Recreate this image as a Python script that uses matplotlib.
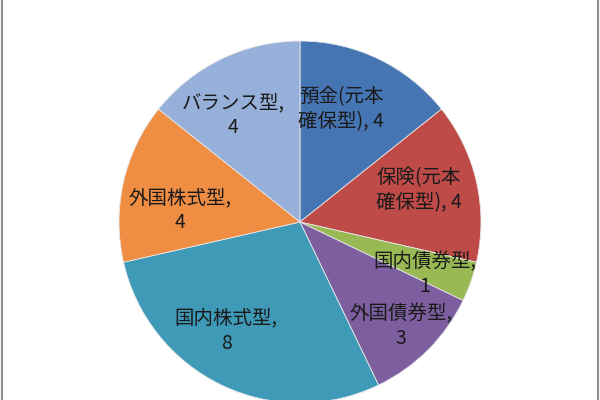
import matplotlib
matplotlib.use("Agg")
import matplotlib.pyplot as plt
from matplotlib.lines import Line2D

plt.rcParams['font.family'] = ['Noto Sans CJK JP', 'DejaVu Sans']

categories = ["預金(元本\n確保型)", "保険(元本\n確保型)", "国内債券型", "外国債券型",
              "国内株式型", "外国株式型", "バランス型"]
values = [4, 4, 1, 3, 8, 4, 4]
colors = ["#4675B3", "#BE4B48", "#98B954", "#7D5FA0", "#3F9AB8", "#EF8D42", "#96B0DA"]

fig = plt.figure(figsize=(6, 4), dpi=100)
ax = fig.add_axes([0, 0, 1, 1])

wedges, _ = ax.pie(values, colors=colors, startangle=90, counterclock=False,
                   radius=1.0, center=(0, 0),
                   wedgeprops=dict(edgecolor="#E8E8E8", linewidth=0.6))

# axes limits chosen so the pie centre sits at (300, 222) px, radius 181 px
R = 181.0
ax.set_xlim(-300 / R, 300 / R)
ax.set_ylim(-178 / R, 222 / R)
ax.set_aspect('auto')
ax.axis('off')

# label layout (pixel positions of label centres in the figure)
label_px = [(341, 109), (419, 190), (425, 274), (401, 326),
            (226, 331), (180, 210), (233, 115)]
for cat, val, (px, py) in zip(categories, values, label_px):
    if "\n" in cat:
        txt = f"{cat}, {val}"
    else:
        txt = f"{cat},\n{val}"
    ax.text((px - 300) / R, (222 - py) / R, txt, ha='center', va='center',
            fontsize=14, color="#1A1A1A", linespacing=1.25, multialignment='center')

# frame side lines
fig.add_artist(Line2D([1.5 / 600, 1.5 / 600], [0, 1], color="#8C8C8C", lw=1.5))
fig.add_artist(Line2D([597.5 / 600, 597.5 / 600], [0, 1], color="#8C8C8C", lw=1.5))

fig.savefig("out.png", dpi=100)
